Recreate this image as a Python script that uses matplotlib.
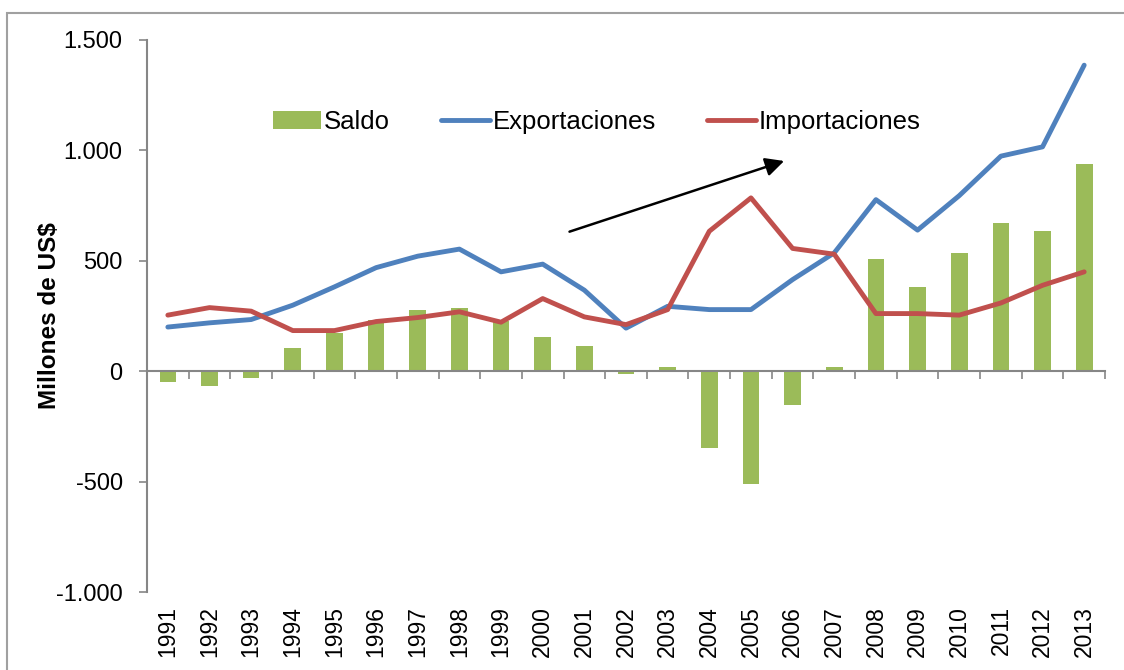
import numpy as np
import matplotlib
matplotlib.use("Agg")
import matplotlib.pyplot as plt
from matplotlib.patches import Rectangle
from matplotlib.ticker import FuncFormatter, FixedLocator

plt.rcParams['font.family'] = ['Liberation Sans', 'DejaVu Sans']

# Data (millones de US$)
years = [str(y) for y in range(1991, 2014)]
saldo = [-48, -65, -30, 104, 173, 234, 276, 285, 228, 157, 113, -12,
         20, -347, -512, -151, 20, 507, 380, 534, 670, 637, 937]
exportaciones = [200, 219, 234, 299, 382, 469, 521, 553, 450, 485, 367, 195,
                 294, 279, 279, 415, 536, 777, 639, 795, 974, 1016, 1386]
importaciones = [254, 288, 272, 184, 184, 225, 243, 269, 222, 329, 246, 211,
                 279, 634, 785, 556, 530, 261, 261, 254, 309, 389, 450]

green = '#9BBB59'
blue = '#4F81BD'
red = '#C0504D'
grey = '#868686'

fig = plt.figure(figsize=(11.24, 6.70), dpi=100)
ax = fig.add_axes([0.1308, 0.1164, 0.8523, 0.8239])

x = np.arange(len(years))
b = ax.bar(x, saldo, width=0.4, color=green, label='Saldo', zorder=2)
l1, = ax.plot(x, exportaciones, color=blue, lw=3.5, label='Exportaciones',
              solid_capstyle='round', zorder=3)
l2, = ax.plot(x, importaciones, color=red, lw=3.5, label='Importaciones',
              solid_capstyle='round', zorder=3)

# trend arrow
ax.annotate('', xy=(14.86, 956), xytext=(9.58, 628),
            arrowprops=dict(arrowstyle='-|>', color='black', lw=1.8,
                            mutation_scale=28), zorder=4)

ax.set_xlim(-0.5, len(years) - 0.5)
ax.set_ylim(-1000, 1500)
ax.set_yticks([-1000, -500, 0, 500, 1000, 1500])
ax.yaxis.set_major_formatter(
    FuncFormatter(lambda v, p: f"{v:,.0f}".replace(',', '.')))
ax.tick_params(axis='y', labelsize=17, length=6, color=grey, width=1.2, pad=11.5)

for s in ['top', 'right']:
    ax.spines[s].set_visible(False)
ax.spines['left'].set_color(grey)
ax.spines['left'].set_linewidth(1.5)
ax.spines['bottom'].set_position(('data', 0))
ax.spines['bottom'].set_color(grey)
ax.spines['bottom'].set_linewidth(1.5)

# boundary ticks on the zero line, no labels there
ax.xaxis.set_major_locator(FixedLocator(np.arange(len(years) + 1) - 0.5))
ax.tick_params(axis='x', length=6, color=grey, width=1.2, labelbottom=False,
               direction='out')

# year labels at the bottom
sec = ax.secondary_xaxis('bottom')
sec.set_xticks(x)
sec.set_xticklabels(years, rotation=90, fontsize=16.5)
sec.tick_params(length=0, pad=10)
sec.spines['bottom'].set_visible(False)

ax.set_ylabel('Millones de US$', fontsize=17.5, fontweight='bold')
ax.yaxis.set_label_coords(-0.09, 0.5)

ax.legend([b, l1, l2], ['Saldo', 'Exportaciones', 'Importaciones'],
          loc='center left', bbox_to_anchor=(0.131, 0.852), ncol=3,
          frameon=False, fontsize=18.5, handlelength=1.9, handletextpad=0.1,
          columnspacing=2.0, borderaxespad=0, borderpad=0)

# chart border
fig.add_artist(Rectangle((7 / 1124, -0.05), 1.2, (670 - 12.5) / 670 + 0.05,
                         transform=fig.transFigure, fill=False,
                         edgecolor='#A0A0A0', lw=1.5))

fig.savefig('out.png', dpi=100)
